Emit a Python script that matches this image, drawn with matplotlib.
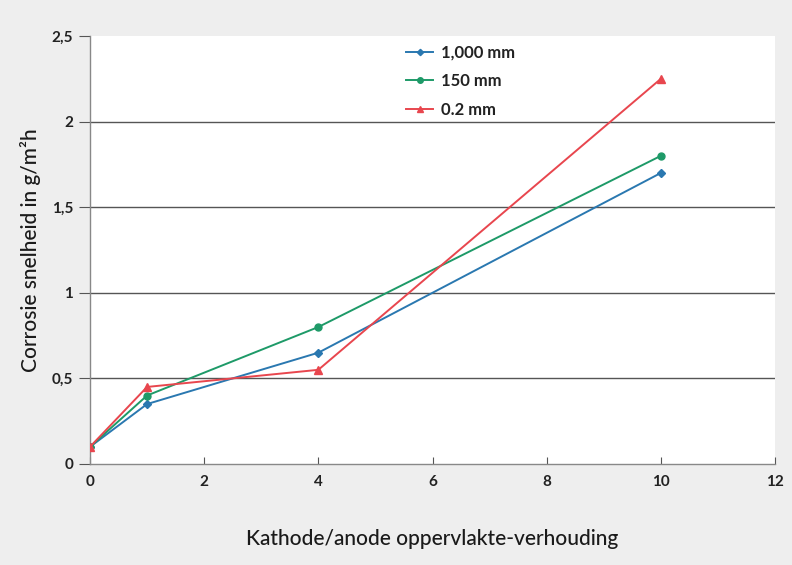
import matplotlib.pyplot as plt

plt.rcParams['font.family'] = ['Lato', 'DejaVu Sans']

ratio = [0, 1, 4, 10]
rate_1000 = [0.10, 0.35, 0.65, 1.70]
rate_150 = [0.10, 0.40, 0.80, 1.80]
rate_02 = [0.10, 0.45, 0.55, 2.25]

series_labels = ["1,000 mm", "150 mm", "0.2 mm"]
y_ticks = [0, 0.5, 1, 1.5, 2, 2.5]
y_tick_labels = ["0", "0,5", "1", "1,5", "2", "2,5"]
x_ticks = [0, 2, 4, 6, 8, 10, 12]

BG = "#eeeeee"
fig = plt.figure(figsize=(7.92, 5.65), dpi=100, facecolor=BG)
ax = fig.add_axes([0.1136, 0.1788, 0.865, 0.7575])
ax.set_facecolor("white")

styles = [("#2a78b0", "D", 4), ("#1e9a68", "o", 5), ("#e8464e", "^", 6)]
for vals, lab, (col, mk, ms) in zip([rate_1000, rate_150, rate_02], series_labels, styles):
    ax.plot(ratio, vals, color=col, marker=mk, markersize=ms, linewidth=1.4,
            label=lab, zorder=3)

ax.set_xlim(0, 12)
ax.set_ylim(0, 2.5)
ax.set_xticks(x_ticks)
ax.set_yticks(y_ticks)
ax.set_yticklabels(y_tick_labels)
for y in y_ticks[1:-1]:
    ax.axhline(y, color="#555555", linewidth=1.0, zorder=1)

for s in ["top", "right"]:
    ax.spines[s].set_visible(False)
for s in ["left", "bottom"]:
    ax.spines[s].set_color("#888888")
    ax.spines[s].set_linewidth(1.0)

ax.tick_params(axis="x", direction="in", length=5, color="#555555",
               labelsize=11, pad=8)
ax.tick_params(axis="y", direction="out", length=8, color="#555555",
               labelsize=11, pad=4)
for t in ax.get_xticklabels() + ax.get_yticklabels():
    t.set_fontweight("bold")
    t.set_color("#222222")

ax.set_xlabel("Kathode/anode oppervlakte-verhouding", fontsize=15,
              color="#1a1a1a", fontweight="medium", labelpad=29)
ax.set_ylabel("Corrosie snelheid in g/m²h", fontsize=15, color="#1a1a1a",
              fontweight="medium", labelpad=8)

leg = ax.legend(loc="upper left", bbox_to_anchor=(0.44, 1.015), frameon=False,
                fontsize=12, handlelength=1.6, handletextpad=0.5,
                labelspacing=0.75, markerscale=0.8)
for t in leg.get_texts():
    t.set_fontweight("bold")
    t.set_color("#222222")

fig.savefig("out.png", dpi=100, facecolor=BG)
